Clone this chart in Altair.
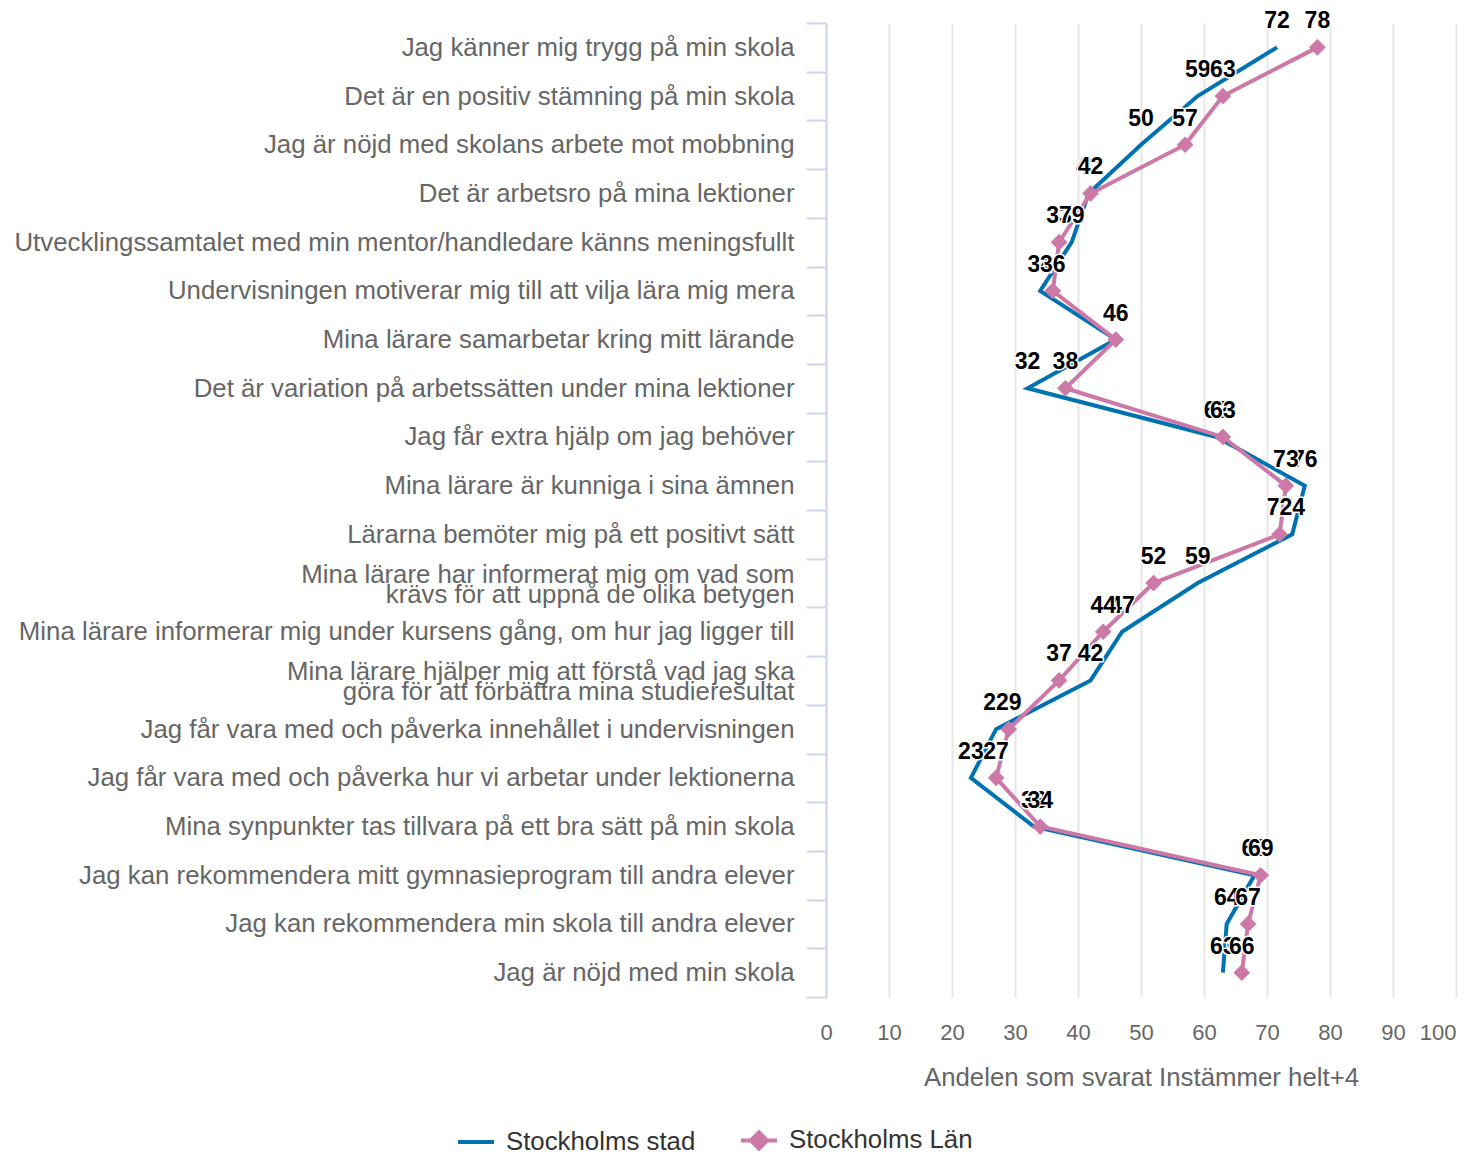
import altair as alt
import pandas as pd

categories = [
    "Jag känner mig trygg på min skola",
    "Det är en positiv stämning på min skola",
    "Jag är nöjd med skolans arbete mot mobbning",
    "Det är arbetsro på mina lektioner",
    "Utvecklingssamtalet med min mentor/handledare känns meningsfullt",
    "Undervisningen motiverar mig till att vilja lära mig mera",
    "Mina lärare samarbetar kring mitt lärande",
    "Det är variation på arbetssätten under mina lektioner",
    "Jag får extra hjälp om jag behöver",
    "Mina lärare är kunniga i sina ämnen",
    "Lärarna bemöter mig på ett positivt sätt",
    "Mina lärare har informerat mig om vad som\nkrävs för att uppnå de olika betygen",
    "Mina lärare informerar mig under kursens gång, om hur jag ligger till",
    "Mina lärare hjälper mig att förstå vad jag ska\ngöra för att förbättra mina studieresultat",
    "Jag får vara med och påverka innehållet i undervisningen",
    "Jag får vara med och påverka hur vi arbetar under lektionerna",
    "Mina synpunkter tas tillvara på ett bra sätt på min skola",
    "Jag kan rekommendera mitt gymnasieprogram till andra elever",
    "Jag kan rekommendera min skola till andra elever",
    "Jag är nöjd med min skola",
]
stad = [71.6, 59, 50, 41.7, 39, 34, 46, 32, 62, 76, 74, 59, 47, 42, 27, 23, 33, 68, 63.6, 63]
lan = [78, 63, 57, 42, 37, 36, 46, 38, 63, 73, 72, 52, 44, 37, 29, 27, 34, 69, 67, 66]
series_names = ["Stockholms stad", "Stockholms Län"]
series_colors = ["#0072B2", "#CC79A7"]
x_ticks = [0, 10, 20, 30, 40, 50, 60, 70, 80, 90, 100]

rows = []
for i, c in enumerate(categories):
    rows.append({"fraga": c, "idx": i, "serie": series_names[0], "varde": stad[i]})
    rows.append({"fraga": c, "idx": i, "serie": series_names[1], "varde": lan[i]})
df = pd.DataFrame(rows)

FONT = "Liberation Sans"

x_enc = alt.X(
    "varde:Q",
    scale=alt.Scale(domain=[0, 100], nice=False),
    axis=alt.Axis(
        values=x_ticks,
        title="Andelen som svarat Instämmer helt+4",
        titleFontSize=25.8,
        titleFontWeight="normal",
        titleColor="#666666",
        titlePadding=22,
        labelFontSize=22,
        labelColor="#666666",
        labelPadding=25,
        labelAlign=alt.ConditionalAxisLabelAlign(
            condition={"test": "datum.value == 100", "value": "right"}, value="center"
        ),
        domain=False,
        ticks=False,
        tickSize=0,
        grid=True,
        gridColor="#e6e6e6",
        gridWidth=2,
    ),
)

y_enc = alt.Y(
    "fraga:N",
    sort=categories,
    scale=alt.Scale(type="band", paddingInner=0, paddingOuter=0),
    axis=alt.Axis(
        title=None,
        labelExpr="split(datum.label, '\\n')",
        labelFontSize=25.8,
        labelColor="#666666",
        labelLineHeight=20,
        labelLimit=0,
        labelPadding=12,
        labelOffset=alt.ConditionalAxisNumber(
            condition={"test": "length(split(datum.label, '\\n')) > 1", "value": -9}, value=0
        ),
        domain=True,
        domainColor="#ccd6eb",
        domainWidth=2,
        ticks=True,
        tickColor="#ccd6eb",
        tickWidth=2,
        tickSize=20,
        tickBand="extent",
        grid=False,
    ),
)

base = alt.Chart(df)

line_stad = base.transform_filter(alt.datum.serie == series_names[0]).mark_line(
    strokeWidth=4, color=series_colors[0]
).encode(x=x_enc, y=y_enc, order=alt.Order("idx:Q"))
line_lan = base.transform_filter(alt.datum.serie == series_names[1]).mark_line(
    strokeWidth=4, color=series_colors[1]
).encode(x=x_enc, y=y_enc, order=alt.Order("idx:Q"))
diamonds = base.transform_filter(alt.datum.serie == series_names[1]).mark_point(
    shape="diamond", filled=True, size=280, opacity=1, color=series_colors[1]
).encode(x=x_enc, y=y_enc)


def text_layers(name):
    d = base.transform_filter(alt.datum.serie == name)
    outline = d.mark_text(
        font=FONT, fontSize=23, fontWeight="bold", dy=-19, baseline="alphabetic",
        fill="white", stroke="white", strokeWidth=3, strokeJoin="round",
    ).encode(x=x_enc, y=y_enc, text=alt.Text("varde:Q", format=".0f"))
    fill = d.mark_text(
        font=FONT, fontSize=23, fontWeight="bold", dy=-19, baseline="alphabetic", color="black",
    ).encode(x=x_enc, y=y_enc, text=alt.Text("varde:Q", format=".0f"))
    return [outline, fill]


legend_def = alt.Legend(
    title=None,
    orient="none",
    legendX=-370,
    legendY=1097,
    direction="horizontal",
    symbolSize=1296,
    symbolStrokeWidth=4,
    symbolOpacity=1,
    labelFontSize=25.8,
    labelColor="#333333",
    labelFont=FONT,
    labelLimit=0,
    labelOffset=10,
    columnPadding=37,
    padding=0,
)
legend_layer = base.transform_filter("false").mark_point(opacity=1, strokeWidth=4).encode(
    x=x_enc, y=y_enc,
    shape=alt.Shape(
        "serie:N",
        scale=alt.Scale(
            domain=series_names,
            range=["M-1,0H1", "M-1,0H1M0,-0.45L0.45,0L0,0.45L-0.45,0Z"],
        ),
        legend=legend_def,
    ),
    stroke=alt.Stroke("serie:N", scale=alt.Scale(domain=series_names, range=series_colors), legend=legend_def),
    fill=alt.Fill("serie:N", scale=alt.Scale(domain=series_names, range=series_colors), legend=legend_def),
)

chart = alt.layer(
    line_stad, line_lan, diamonds, *text_layers(series_names[0]), *text_layers(series_names[1]), legend_layer
).properties(
    width=630,
    height=974,
    autosize=alt.AutoSizeParams(type="none"),
    padding={"left": 818, "top": 15, "right": 8, "bottom": 159},
).configure(font=FONT).configure_view(strokeWidth=0)

chart.save("out.html", embed_options={"renderer": "svg", "actions": False})
